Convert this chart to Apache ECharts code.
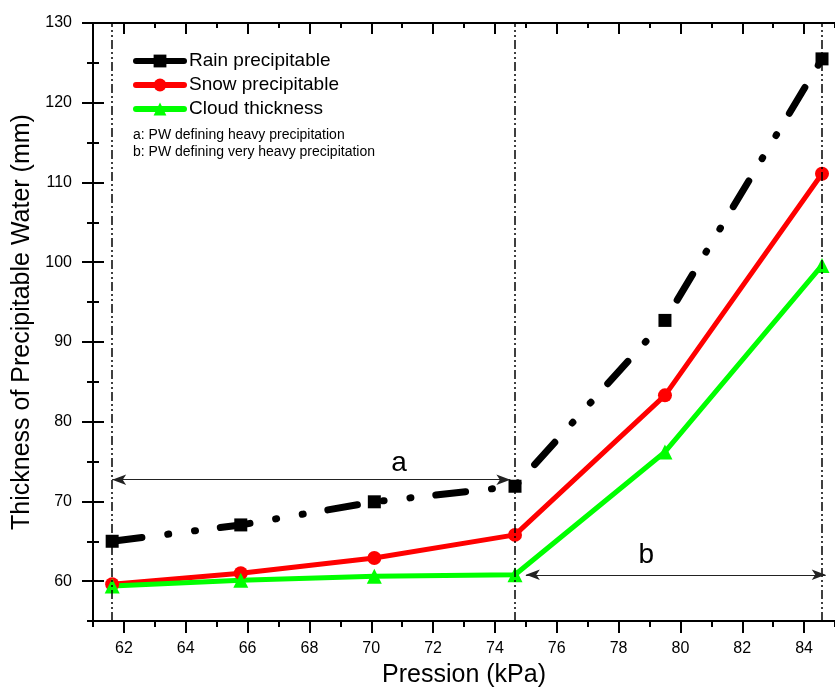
<!DOCTYPE html>
<html>
<head>
<meta charset="utf-8">
<script src="https://cdn.jsdelivr.net/npm/echarts@6/dist/echarts.min.js"></script>
<style>
html,body{margin:0;padding:0;background:#fff;}
#chart{width:835px;height:693px;}
</style>
</head>
<body>
<div id="chart"></div>
<script>
// ---- data ----
const pressure = [61.62, 65.78, 70.1, 74.65, 79.5, 84.58];
const rainPrecipitable = [65.0, 67.05, 69.95, 71.9, 92.7, 125.5];
const snowPrecipitable = [59.6, 61.0, 62.9, 65.8, 83.3, 111.1];
const cloudThickness = [59.4, 60.1, 60.6, 60.8, 76.2, 99.6];
const seriesNames = ['Rain precipitable', 'Snow precipitable', 'Cloud thickness'];
const boundaryLines = [61.62, 74.65, 84.58];
const arrowA = [[61.62, 72.72], [74.5, 72.72]];
const arrowB = [[75.0, 60.8], [84.7, 60.8]];
const spanLabels = [[70.9, 74.8, 'a'], [78.9, 63.2, 'b']];
const notes = ['a: PW defining heavy precipitation', 'b: PW defining very heavy precipitation'];
const xMajorTicks = [62, 64, 66, 68, 70, 72, 74, 76, 78, 80, 82, 84];
const xMinorTicks = [61, 63, 65, 67, 69, 71, 73, 75, 77, 79, 81, 83, 85];
const yMajorTicks = [60, 70, 80, 90, 100, 110, 120, 130];
const yMinorTicks = [55, 65, 75, 85, 95, 105, 115, 125];

const FONT = '"Liberation Sans", Arial, sans-serif';
const zip = (xs, ys) => xs.map((x, i) => [x, ys[i]]);

function xAx(pos, ticks, len, inside, showLine, labels) {
  return {
    type: 'value', min: 61, max: 85, interval: 1, position: pos,
    splitLine: {show: false},
    axisLine: {show: showLine, onZero: false, lineStyle: {color: '#000', width: 2}},
    axisTick: {show: true, customValues: ticks, length: len, inside: inside, lineStyle: {color: '#000', width: 2}},
    axisLabel: labels ? {show: true, customValues: ticks, fontSize: 16, margin: 20, color: '#000', fontFamily: FONT,
      formatter: v => (v % 2 === 0 ? String(v) : '')} : {show: false}
  };
}
function yAx(ticks, len, inside, showLine, labels) {
  return {
    type: 'value', min: 55, max: 130, interval: 5, position: 'left',
    splitLine: {show: false},
    axisLine: {show: showLine, onZero: false, lineStyle: {color: '#000', width: 2}},
    axisTick: {show: true, customValues: ticks, length: len, inside: inside, lineStyle: {color: '#000', width: 2}},
    axisLabel: labels ? {show: true, customValues: ticks, fontSize: 16, margin: 21, color: '#000', fontFamily: FONT,
      formatter: v => (v % 10 === 0 ? String(v) : '')} : {show: false}
  };
}

const xAxes = [
  xAx('bottom', xMajorTicks, 12, false, true, true),
  xAx('bottom', xMinorTicks, 6, false, false, false),
  xAx('top', xMajorTicks, 11, true, true, false),
  xAx('top', xMinorTicks, 5, true, false, false)
];
Object.assign(xAxes[0], {name: 'Pression (kPa)', nameLocation: 'middle', nameGap: 42,
  nameTextStyle: {fontSize: 25, color: '#000', fontFamily: FONT}});
const yAxes = [
  yAx(yMajorTicks, 11, false, true, true),
  yAx(yMinorTicks, 6, false, false, false),
  yAx(yMajorTicks, 11, true, false, false),
  yAx(yMinorTicks, 6, true, false, false)
];
Object.assign(yAxes[0], {name: 'Thickness of Precipitable Water (mm)', nameLocation: 'middle', nameGap: 53,
  nameTextStyle: {fontSize: 25, color: '#000', fontFamily: FONT}});

const chart = echarts.init(document.getElementById('chart'), null, {renderer: 'canvas'});
chart.setOption({
  animation: false,
  backgroundColor: '#fff',
  textStyle: {fontFamily: FONT},
  grid: {left: 93, right: -7, top: 23, bottom: 67, containLabel: false},
  xAxis: xAxes,
  yAxis: yAxes,
  legend: {
    data: seriesNames, orient: 'vertical', left: 133, top: 49, padding: 0,
    itemWidth: 48, itemHeight: 16, itemGap: 0,
    lineStyle: {type: 'solid', width: 6, cap: 'round'},
    textStyle: {fontSize: 19, color: '#000', lineHeight: 24, fontFamily: FONT},
    selectedMode: false
  },
  graphic: [
    {type: 'text', left: 133, top: 128, style: {text: notes[0], font: '14px ' + FONT, fill: '#000'}},
    {type: 'text', left: 133, top: 145, style: {text: notes[1], font: '14px ' + FONT, fill: '#000'}}
  ],
  series: [
    {
      name: seriesNames[0], type: 'line', data: zip(pressure, rainPrecipitable),
      symbol: 'rect', symbolSize: 13, itemStyle: {color: '#000'},
      lineStyle: {color: '#000', width: 7, type: [30, 26, 1, 26, 1, 25], cap: 'round'},
      markLine: {
        silent: true, symbol: ['none', 'none'], label: {show: false},
        lineStyle: {color: '#000', width: 1.5, type: [9, 3, 2, 3, 2, 3]},
        emphasis: {disabled: true},
        data: boundaryLines.map(v => ({xAxis: v})).concat([
          [{coord: arrowA[0], symbol: 'arrow', symbolSize: [8, 14], lineStyle: {type: 'solid', width: 1, color: '#222'}},
           {coord: arrowA[1], symbol: 'arrow', symbolSize: [8, 14]}],
          [{coord: arrowB[0], symbol: 'arrow', symbolSize: [8, 14], lineStyle: {type: 'solid', width: 1, color: '#222'}},
           {coord: arrowB[1], symbol: 'arrow', symbolSize: [8, 14]}]
        ])
      }
    },
    {
      name: seriesNames[1], type: 'line', data: zip(pressure, snowPrecipitable),
      symbol: 'circle', symbolSize: 14, itemStyle: {color: '#ff0000'},
      lineStyle: {color: '#ff0000', width: 5}
    },
    {
      name: seriesNames[2], type: 'line', data: zip(pressure, cloudThickness),
      symbol: 'triangle', symbolSize: 15, itemStyle: {color: '#00ff00'},
      lineStyle: {color: '#00ff00', width: 5}
    },
    {
      name: 'labels', type: 'scatter', data: spanLabels, symbolSize: 1,
      itemStyle: {color: 'rgba(0,0,0,0)', opacity: 1}, silent: true,
      emphasis: {disabled: true},
      label: {show: true, position: 'inside', formatter: p => p.value[2], fontSize: 28, color: '#000',
        opacity: 1, textBorderWidth: 0, fontFamily: FONT}
    }
  ]
});
</script>
</body>
</html>
